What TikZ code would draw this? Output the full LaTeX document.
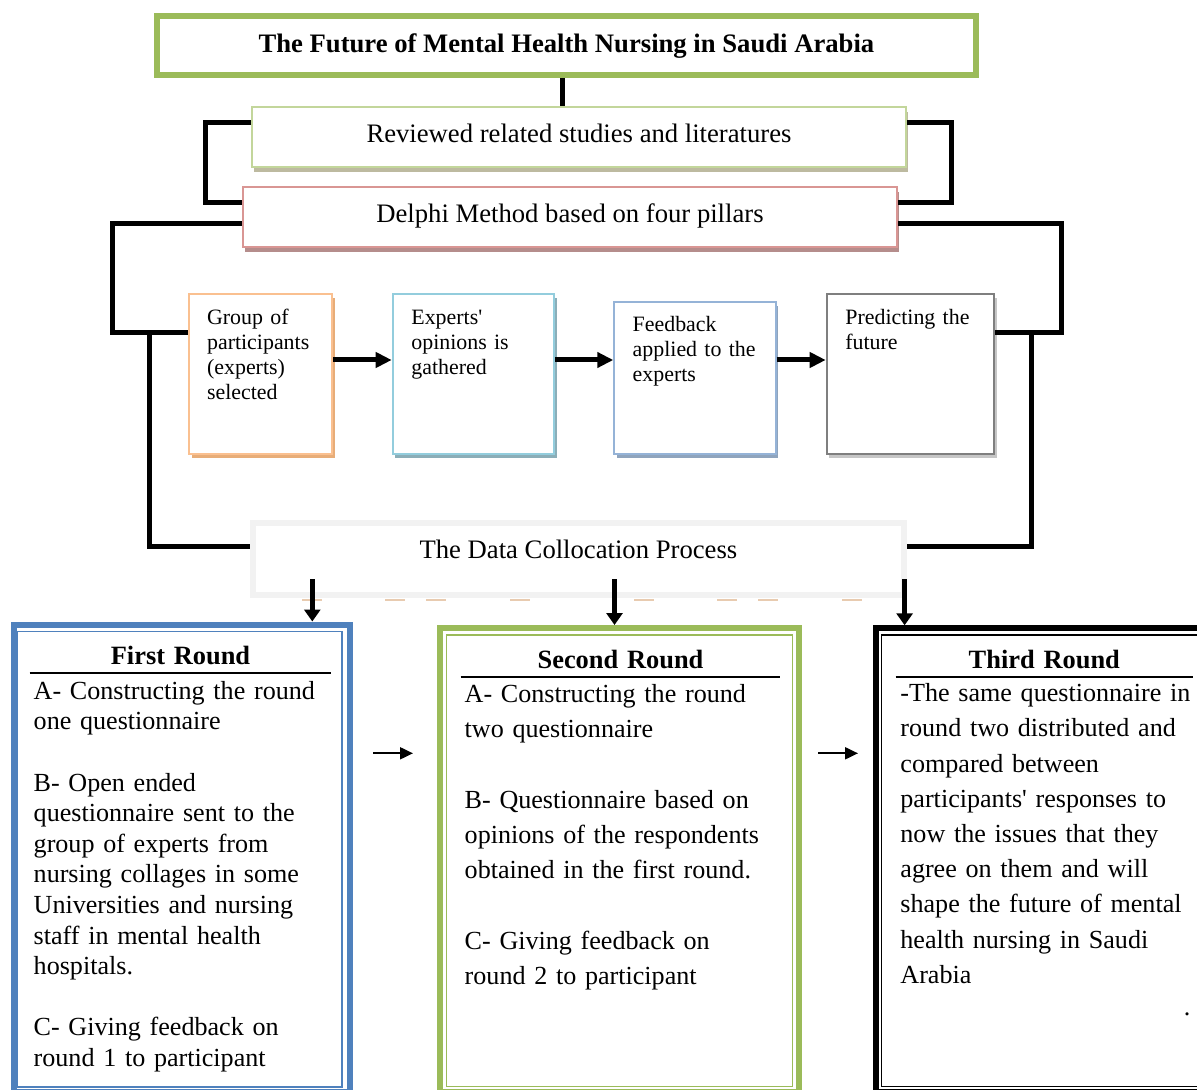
\documentclass[tikz,border=0pt]{standalone}
\usepackage{fontspec}
\setmainfont{Liberation Serif}
\usetikzlibrary{arrows.meta}
\usetikzlibrary{shadows}
\tikzset{>={Triangle[length=8pt,width=7.5pt]}}

\definecolor{olivegreen}{HTML}{9BBB59}
\definecolor{palegreen}{HTML}{C3D69B}
\definecolor{palered}{HTML}{D99694}
\definecolor{paleorange}{HTML}{FAC090}
\definecolor{paleaqua}{HTML}{93CDDD}
\definecolor{paleblue}{HTML}{95B3D7}
\definecolor{midgray}{HTML}{7F7F7F}
\definecolor{lightgray}{HTML}{F2F2F2}
\definecolor{roundblue}{HTML}{4F81BD}
\definecolor{dashtan}{HTML}{E8CBB0}

\tikzset{
  link/.style={line width=2.5pt, line join=miter},
  bandbox/.style 2 args={draw=#1, line width=1pt, fill=white,
    minimum width=327pt, minimum height=30pt, text height=9pt, text depth=3pt,
    drop shadow={shadow xshift=1pt, shadow yshift=-2.5pt, fill=#2, opacity=1},
    font=\fontsize{13.33}{15.3}\selectfont},
  pillar/.style 2 args={draw=#1, line width=1pt, fill=white,
    drop shadow={shadow xshift=1.2pt, shadow yshift=-2pt, fill=#2, opacity=1}},
  pillartext/.style={anchor=base west, align=left, inner sep=0pt, text width=75pt,
    font=\fontsize{10.95}{12.5}\selectfont},
  roundbox/.style={draw=#1, line width=3pt, anchor=north west},
  roundhead/.style={anchor=base, align=center, inner sep=0pt,
    font=\bfseries\fontsize{13.2}{15.3}\selectfont},
  roundtext/.style={anchor=base west, align=left, inner sep=0pt, text width=165pt,
    font=\fontsize{13.05}{#1}\selectfont},
  rule/.style={line width=1pt}
}

\begin{document}
\begin{tikzpicture}[x=0.5pt,y=-0.5pt]
  \useasboundingbox (0,0) rectangle (1197,1090);

  % top of the chart
  \node[draw=olivegreen, line width=3pt, minimum width=409.9pt, minimum height=29.6pt,
        font=\bfseries\fontsize{13.33}{15.3}\selectfont] (title) at (566.4,45.9)
        {The Future of Mental Health Nursing in Saudi Arabia};
  \node[bandbox={palegreen}{gray!75!olive!60}] (rev) at (579,137)
        {Reviewed related studies and literatures};
  \node[bandbox={palered}{palered!60!gray}] (delphi) at (570,217)
        {Delphi Method based on four pillars};

  \draw[link] ([xshift=-2pt]title.south) -- ([xshift=-2pt]title.south |- rev.north);
  \draw[link] ([yshift=7pt]rev.west) -- ++(-46,0) |- ([yshift=7pt]delphi.west);
  \draw[link] ([yshift=7pt]rev.east) -- ++(44,0) |- ([yshift=7pt]delphi.east);

  % four pillars
  \node[pillar={paleorange}{paleorange!70!brown}, minimum width=71.5pt, minimum height=79.9pt] (g1) at (260.8,374.2) {};
  \node[pillar={paleaqua}{paleaqua!60!gray}, minimum width=80.7pt, minimum height=79.9pt] (g2) at (473.4,374.2) {};
  \node[pillar={paleblue}{paleblue!70!gray}, minimum width=80.7pt, minimum height=76.2pt] (g3) at (695,377.9) {};
  \node[pillar={midgray}{gray!45}, minimum width=83.8pt, minimum height=80.2pt] (g4) at (910.5,374.2) {};

  \node[pillartext] (g1t) at (206.7,325) {Group of\\participants\\(experts)\\selected};
  \node[pillartext] (g2t) at (411,325) {Experts\textquotesingle\\opinions is\\gathered};
  \node[pillartext] (g3t) at (632.3,331.7) {Feedback\\applied to the\\experts};
  \node[pillartext] (g4t) at (845,325) {Predicting the\\future};

  \draw[link,->] ([yshift=7.1pt]g1.east) -- ([yshift=7.1pt]g1.east -| g2.west);
  \draw[link,->] ([yshift=7.1pt]g2.east) -- ([yshift=7.1pt]g2.east -| g3.west);
  \draw[link,->] ([yshift=7.1pt]g4.west -| g3.east) -- ([yshift=7.1pt]g4.west);

  \draw[link] ([yshift=-3.5pt]delphi.west) -- ++(-130,0) |- ([yshift=21pt]g1.west);
  \draw[link] ([yshift=-3.5pt]delphi.east) -- ++(163,0) |- ([yshift=21pt]g4.east);

  % data collection
  \node[draw=lightgray, line width=3pt, minimum width=325.6pt, minimum height=35.6pt,
        text height=9pt, text depth=9pt, font=\fontsize{13.33}{15.3}\selectfont]
        (data) at (578.4,558.9) {The Data Collocation Process};
  \foreach \x in {302,385,426,510,634,717,758,842}
    \draw[dashtan, line width=1pt] (\x,600) -- ++(20,0);

  \draw[link] ([yshift=21pt,xshift=-19.6pt]g1.west) |- ([yshift=6pt]data.west);
  \draw[link] ([yshift=21pt,xshift=17.9pt]g4.east) |- ([yshift=6pt]data.east);

  % the three rounds
  \node[roundbox=roundblue, minimum width=168pt, minimum height=233.8pt] (r1) at (10.5,621.5) {};
  \node[roundbox=olivegreen, minimum width=179.8pt, minimum height=232pt] (r2) at (436.7,625) {};
  \node[roundbox=black, minimum width=165.3pt, minimum height=231.9pt] (r3) at (872.5,625.3) {};
  \foreach \xa/\ya/\xb/\yb/\c in {17/631.5/342/1087/roundblue, 446.7/635/792.7/1086.7/olivegreen,
                                   881.7/635/1199.5/1086.7/black}
    \draw[\c, line width=0.75pt] (\xa,\ya) rectangle (\xb,\yb);

  \coordinate (d1) at (312.3,579);
  \coordinate (d2) at (614.5,579);
  \coordinate (d3) at (904.6,579);
  \draw[link,-{Triangle[length=6pt,width=8pt]}] (d1) -- (d1 |- r1.north);
  \draw[link,-{Triangle[length=6pt,width=8pt]}] (d2) -- (d2 |- r2.north);
  \draw[link,-{Triangle[length=6pt,width=8pt]}] (d3) -- (d3 |- r3.north);

  \node[roundhead, text width=150.5pt] (r1h) at (180.5,664) {First Round};
  \node[roundhead, text width=159.5pt] (r2h) at (620.5,668.3) {Second Round};
  \node[roundhead, text width=148.3pt] (r3h) at (1044.3,668.3) {Third Round};
  \draw[rule] ([yshift=-4.5pt]r1h.base west) -- ([yshift=-4.5pt]r1h.base east);
  \draw[rule] ([yshift=-4.2pt]r2h.base west) -- ([yshift=-4.2pt]r2h.base east);
  \draw[rule] ([yshift=-4.2pt]r3h.base west) -- ([yshift=-4.2pt]r3h.base east);

  \node[roundtext=15.3pt] (r1t) at (33.3,699.3) {A- Constructing the round\\one questionnaire\\[\baselineskip]
    B- Open ended\\questionnaire sent to the\\group of experts from\\nursing collages in some\\
    Universities and nursing\\staff in mental health\\hospitals.\\[\baselineskip]
    C- Giving feedback on\\round 1 to participant};
  \node[roundtext=17.6pt] (r2t) at (464.3,702.7) {A- Constructing the round\\two questionnaire\\[\baselineskip]
    B- Questionnaire based on\\opinions of the respondents\\obtained in the first round.\\[\baselineskip]
    C- Giving feedback on\\round 2 to participant};
  \node[roundtext=17.6pt] (r3t) at (900,701.7) {-The same questionnaire in\\round two distributed and\\
    compared between\\participants\textquotesingle{} responses to\\now the issues that they\\
    agree on them and will\\shape the future of mental\\health nursing in Saudi\\Arabia};
  \node[roundhead, font=\fontsize{13.05}{15.3}\selectfont] (dot) at (1187,1015) {.};

  \coordinate (m1) at (373,753.3);
  \coordinate (m2) at (818.3,753.3);
  \draw[line width=1pt, -{Triangle[length=6.5pt,width=6pt]}, shorten >=11.85pt] (m1) -- (m1 -| r2.west);
  \draw[line width=1pt, -{Triangle[length=6.5pt,width=6pt]}, shorten >=7.25pt] (m2) -- (m2 -| r3.west);

\end{tikzpicture}
\end{document}
